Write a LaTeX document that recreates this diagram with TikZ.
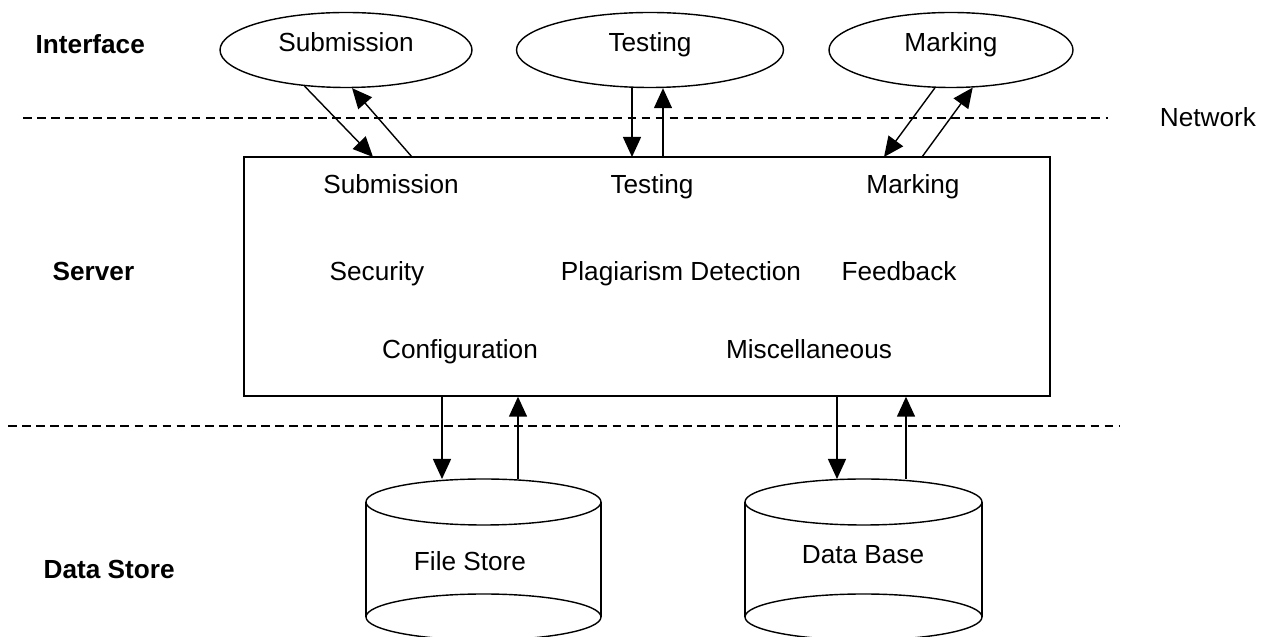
\documentclass[tikz,border=0pt]{standalone}
\usepackage{fontspec}
\setmainfont{Liberation Sans}
\usetikzlibrary{arrows.meta,shapes.geometric}

\newcommand{\diafont}{\fontsize{14.9}{18}\selectfont}

\tikzset{
    layer/.style={anchor=west, font=\diafont\bfseries, text height=0.95em, text depth=0pt, inner sep=0pt},
    part/.style={text height=0.95em, text depth=0pt, inner sep=0pt},
    client/.style={draw, ellipse, inner sep=0pt, text height=0.72em, text depth=0.54em},
    flow/.style={-{Triangle[length=0.4cm,width=0.36cm]}},
    net/.style={dash pattern=on 5pt off 3pt}
}

\begin{document}
\begin{tikzpicture}[line width=0.8pt, font=\diafont]
    \useasboundingbox (0,0) rectangle (25.3,-12.74);

    % Layer names
    \node[layer] (lInterface) at (0.7,-0.9) {Interface};
    \node[layer] (lServer) at (1.04,-5.44) {Server};
    \node[layer] (lStore) at (0.86,-11.4) {Data Store};
    \node[part] (lNetwork) at (24.16,-2.36) {Network};

    % Dashed boundaries
    \draw[net] (0.46,-2.36) -- (22.16,-2.36);
    \draw[net] (0.16,-8.52) -- (22.4,-8.52);

    % Interface ellipses
    \node[client, minimum width=5.04cm, minimum height=1.5cm] (cSub) at (6.92,-1.0) {Submission};
    \node[client, minimum width=5.34cm, minimum height=1.5cm] (cTest) at (13.0,-1.0) {Testing};
    \node[client, minimum width=4.88cm, minimum height=1.5cm] (cMark) at (19.02,-1.0) {Marking};

    % Server box
    \node[draw, minimum width=16.12cm, minimum height=4.78cm, inner sep=0pt] (srv) at (12.94,-5.53) {};
    \node[part] (sSub) at (7.82,-3.7) {Submission};
    \node[part] (sTest) at (13.04,-3.7) {Testing};
    \node[part] (sMark) at (18.26,-3.7) {Marking};
    \node[part] (sSec) at (7.54,-5.44) {Security};
    \node[part] (sPlag) at (13.62,-5.44) {Plagiarism Detection};
    \node[part] (sFeed) at (17.98,-5.44) {Feedback};
    \node[part] (sConf) at (9.2,-7.0) {Configuration};
    \node[part] (sMisc) at (16.18,-7.0) {Miscellaneous};

    % Points on the box top
    \coordinate (subIn) at (7.46,-3.14);
    \coordinate (subOut) at (8.24,-3.14);
    \coordinate (testIn) at (12.64,-3.14);
    \coordinate (testOut) at (13.26,-3.14);
    \coordinate (markIn) at (17.68,-3.14);
    \coordinate (markOut) at (18.44,-3.14);

    % Interface <-> server
    \draw[flow] (cSub.-139.5) -- (subIn);
    \draw[flow] (subOut) -- (cSub.-81);
    \draw[flow] (cTest.south -| testIn) -- (testIn);
    \draw[flow] (testOut) -- (cTest.south -| testOut);
    \draw[flow] (cMark.-113) -- (markIn);
    \draw[flow] (markOut) -- (cMark.-60);

    % File store cylinder
    \draw (9.67,-10.04) ellipse (2.35 and 0.46);
    \draw (7.32,-10.04) -- (7.32,-12.34);
    \draw (12.02,-10.04) -- (12.02,-12.34);
    \draw (9.67,-12.34) ellipse (2.35 and 0.46);
    \node[part] (fStore) at (9.4,-11.24) {File Store};
    \coordinate (fsIn) at (8.84,-9.58);
    \coordinate (fsOut) at (10.36,-9.58);

    % Data base cylinder
    \draw (17.27,-10.04) ellipse (2.37 and 0.46);
    \draw (14.9,-10.04) -- (14.9,-12.34);
    \draw (19.64,-10.04) -- (19.64,-12.34);
    \draw (17.27,-12.34) ellipse (2.37 and 0.46);
    \node[part] (dBase) at (17.26,-11.1) {Data Base};
    \coordinate (dbIn) at (16.74,-9.58);
    \coordinate (dbOut) at (18.12,-9.58);

    % Server <-> data store
    \draw[flow] (srv.south -| fsIn) -- (fsIn);
    \draw[flow] (fsOut) -- (srv.south -| fsOut);
    \draw[flow] (srv.south -| dbIn) -- (dbIn);
    \draw[flow] (dbOut) -- (srv.south -| dbOut);
\end{tikzpicture}
\end{document}
